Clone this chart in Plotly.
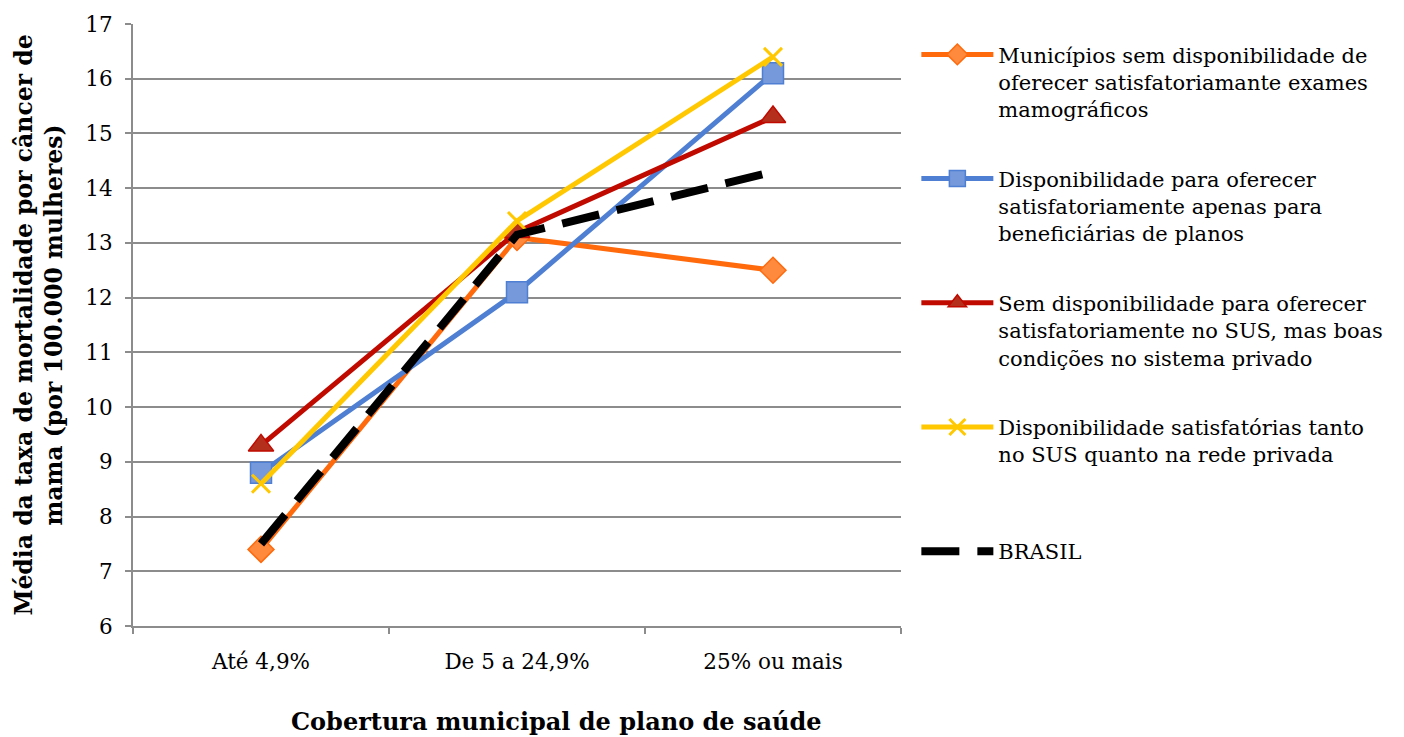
import plotly.graph_objects as go

categories = ["Até 4,9%", "De 5 a 24,9%", "25% ou mais"]

sem_disponibilidade = [7.4, 13.1, 12.5]
apenas_planos = [8.8, 12.1, 16.1]
sem_sus_boas_privado = [9.3, 13.2, 15.3]
sus_e_privada = [8.6, 13.4, 16.4]
brasil = [7.5, 13.15, 14.3]

series_names = [
    "Municípios sem disponibilidade de<br>oferecer satisfatoriamante exames<br>mamográficos<br> ",
    "Disponibilidade para oferecer<br>satisfatoriamente apenas para<br>beneficiárias de planos<br> ",
    "Sem disponibilidade para oferecer<br>satisfatoriamente no SUS, mas boas<br>condições no sistema privado<br> ",
    "Disponibilidade satisfatórias tanto<br>no SUS quanto na rede privada<br> <br> ",
    "BRASIL",
]

x_title = "<b>Cobertura municipal de plano de saúde</b>"
y_title = "<b>Média da taxa de mortalidade por câncer de<br>mama (por 100.000 mulheres)</b>"

FONT = "DejaVu Serif, Liberation Serif, serif"
GRID = "#8c8c8c"

fig = go.Figure()

fig.add_trace(go.Scatter(
    x=categories, y=sem_disponibilidade, name=series_names[0], mode="lines+markers",
    line=dict(color="#FF6A0D", width=5),
    marker=dict(symbol="diamond", size=20, color="#FF8A3D", line=dict(color="#FF6A0D", width=1.5)),
    legendgroup="a",
))
fig.add_trace(go.Scatter(
    x=categories, y=apenas_planos, name=series_names[1], mode="lines+markers",
    line=dict(color="#4E7FD2", width=5),
    marker=dict(symbol="square", size=21, color="#7599DB", line=dict(color="#4E7FD2", width=1.5)),
    legendgroup="b",
))
fig.add_trace(go.Scatter(
    x=categories, y=sem_sus_boas_privado, name=series_names[2], mode="lines+markers",
    line=dict(color="#C00A00", width=5),
    marker=dict(symbol="triangle-up", size=22, color="#B4301C", line=dict(color="#C00A00", width=1.5)),
    legendgroup="c",
))
fig.add_trace(go.Scatter(
    x=categories, y=sus_e_privada, name=series_names[3], mode="lines+markers",
    line=dict(color="#FFC800", width=5),
    marker=dict(symbol="x-thin", size=18, color="#FFC800", line=dict(color="#FFC800", width=3)),
    legendgroup="d",
))
fig.add_trace(go.Scatter(
    x=categories, y=brasil, name=series_names[4], mode="lines",
    line=dict(color="#000000", width=8, dash="38px,18px"),
    legendgroup="e",
))

# horizontal axis title, placed as a paper-anchored label below the tick labels
fig.add_annotation(
    text=x_title, xref="paper", yref="paper",
    x=0.551, y=-0.159, xanchor="center", yanchor="middle",
    showarrow=False, font=dict(family=FONT, size=24, color="#000000"),
)

fig.update_layout(
    width=1404, height=737,
    margin=dict(l=133, r=503, t=22, b=111),
    paper_bgcolor="white", plot_bgcolor="white",
    font=dict(family=FONT, size=21, color="#000000"),
    showlegend=True,
    legend=dict(
        x=1.02, xanchor="left", y=0.983, yanchor="top",
        valign="top", tracegroupgap=12,
        font=dict(family=FONT, size=21, color="#000000"),
        itemwidth=72,
    ),
    xaxis=dict(
        type="category", range=[-0.5, 2.5],
        showline=True, linecolor=GRID, linewidth=2,
        ticks="outside", tickson="boundaries", ticklen=6, tickcolor=GRID, tickwidth=2,
        showgrid=False, zeroline=False,
        tickfont=dict(family=FONT, size=21.5),
        ticklabelstandoff=15,
    ),
    yaxis=dict(
        range=[6, 17], dtick=1, tick0=6,
        showline=True, linecolor=GRID, linewidth=2,
        ticks="outside", ticklen=6, tickcolor=GRID, tickwidth=2,
        showgrid=True, gridcolor=GRID, gridwidth=2,
        zeroline=False,
        tickfont=dict(family=FONT, size=21.5),
        ticklabelstandoff=8,
        title=dict(text=y_title, font=dict(family=FONT, size=23.5), standoff=16),
    ),
)

fig.write_html("out.html")
